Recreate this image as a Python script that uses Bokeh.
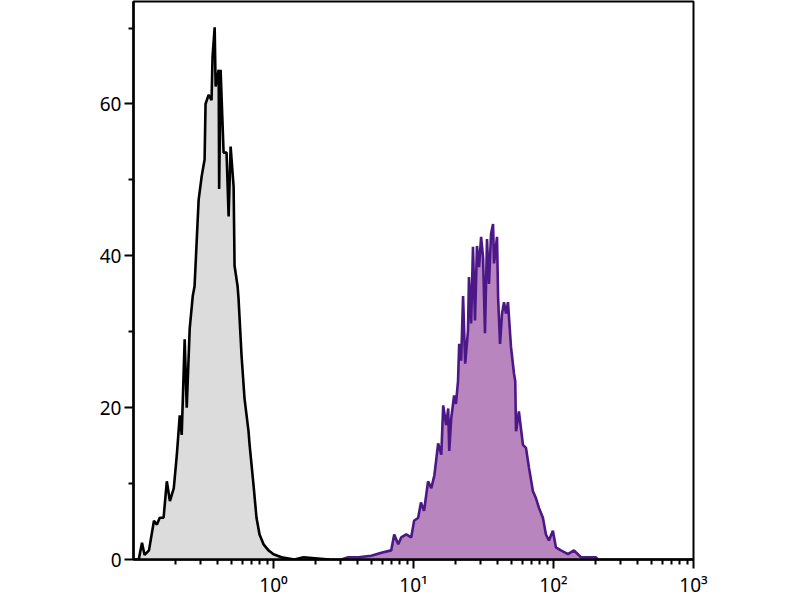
from bokeh.plotting import figure
from bokeh.models import Range1d, FixedTicker
from bokeh.embed import file_html
from bokeh.resources import INLINE

# Unstained control (grey) histogram: fluorescence intensity vs count
control_x = [0.109, 0.115, 0.120, 0.129, 0.140, 0.147, 0.154, 0.164, 0.173, 0.182,
             0.194, 0.204, 0.214, 0.221, 0.232, 0.240, 0.252, 0.265, 0.273, 0.292,
             0.307, 0.322, 0.327, 0.344, 0.361, 0.367, 0.380, 0.386, 0.406, 0.409,
             0.419, 0.440, 0.462, 0.478, 0.494, 0.519, 0.527, 0.554, 0.563, 0.591,
             0.621, 0.663, 0.675, 0.720, 0.756, 0.795, 0.849, 0.921, 1.00, 1.14,
             1.41, 1.64, 2.51]
control_y = [0.0, 2.2, 0.6, 1.2, 5.1, 4.6, 5.5, 5.5, 10.3, 7.7,
             9.4, 13.8, 19.0, 16.4, 29.0, 20.0, 30.4, 34.7, 36.0, 47.4,
             50.5, 52.7, 60.0, 61.2, 60.5, 66.2, 70.1, 62.3, 64.5, 48.8,
             64.5, 53.6, 53.6, 45.2, 54.4, 49.1, 38.7, 36.0, 34.3, 26.9,
             21.2, 16.9, 15.1, 9.8, 5.5, 3.3, 2.0, 1.2, 0.7, 0.3,
             0.0, 0.3, 0.0]

# Stained sample (purple) histogram
stained_x = [3.05, 3.42, 4.04, 4.99, 5.89, 6.93, 7.28, 7.78, 8.17, 8.87,
             9.63, 10.1, 10.8, 11.3, 11.9, 12.7, 13.4, 14.1, 15.0, 15.8,
             16.3, 17.1, 17.7, 18.0, 18.6, 19.5, 20.1, 20.8, 21.2, 21.9,
             22.6, 23.4, 24.5, 24.9, 25.8, 26.6, 27.5, 28.4, 29.4, 30.4,
             31.4, 32.4, 33.5, 34.6, 35.8, 37.0, 37.6, 39.5, 40.2, 41.5,
             42.9, 44.3, 45.8, 47.3, 49.7, 52.2, 53.3, 54.0, 56.6, 60.5,
             63.6, 66.8, 71.3, 74.9, 78.7, 84.0, 88.3, 92.7, 99.0, 104,
             113, 127, 140, 157, 201, 207]
stained_y = [0.0, 0.3, 0.3, 0.5, 0.9, 1.2, 3.3, 2.0, 2.9, 3.3,
             2.9, 5.1, 5.5, 7.5, 6.4, 10.3, 9.4, 11.1, 15.3, 13.8,
             20.3, 17.7, 19.9, 14.3, 18.6, 21.6, 20.5, 23.5, 28.4, 26.2,
             34.7, 25.8, 30.1, 37.2, 31.1, 41.2, 31.5, 41.3, 38.5, 42.5,
             39.8, 29.8, 42.2, 36.3, 42.9, 44.2, 39.0, 42.5, 34.6, 28.4,
             32.4, 33.9, 32.4, 33.9, 28.0, 24.5, 23.5, 16.9, 19.5, 15.1,
             14.7, 12.1, 9.0, 8.1, 6.8, 5.5, 3.3, 2.5, 3.8, 1.6,
             1.2, 0.7, 1.2, 0.3, 0.3, 0.0]

x_ticks = [1, 10, 100, 1000]
x_tick_labels = ["10⁰", "10¹", "10²", "10³"]
x_minor_ticks = [m * d for d in (0.1, 1, 10, 100) for m in range(2, 10)]
y_ticks = [0, 20, 40, 60]
y_minor_ticks = [10, 30, 50, 70]

FONT = "Noto Sans"

p = figure(width=730, height=600, x_axis_type="log",
           x_range=Range1d(0.1, 1000), y_range=Range1d(0, 73.5),
           output_backend="svg", toolbar_location=None,
           min_border_left=133, min_border_right=37,
           min_border_top=1, min_border_bottom=38)

p.varea(x=control_x, y1=0, y2=control_y, fill_color="#dcdcdc")
p.line(control_x, control_y, line_color="black", line_width=2.6)
p.varea(x=stained_x, y1=0, y2=stained_y, fill_color="#b985bf")
p.line(stained_x, stained_y, line_color="#4c1786", line_width=2.6)

p.xgrid.visible = False
p.ygrid.visible = False
p.outline_line_color = "black"
p.outline_line_width = 2
p.background_fill_color = "white"

xa = p.xaxis[0]
xa.ticker = FixedTicker(ticks=x_ticks, minor_ticks=x_minor_ticks)
xa.major_label_overrides = dict(zip(x_ticks, x_tick_labels))
ya = p.yaxis[0]
ya.ticker = FixedTicker(ticks=y_ticks, minor_ticks=y_minor_ticks)

for ax in (xa, ya):
    ax.axis_line_width = 2.5
    ax.axis_line_color = "black"
    ax.major_tick_line_width = 2
    ax.minor_tick_line_width = 2
    ax.major_tick_out = 9
    ax.major_tick_in = 0
    ax.minor_tick_out = 5
    ax.minor_tick_in = 0
    ax.major_label_text_font = FONT
    ax.major_label_text_font_size = "19px"
    ax.major_label_text_color = "black"
    ax.major_label_standoff = 3

open("out.html", "w").write(file_html(p, INLINE))
